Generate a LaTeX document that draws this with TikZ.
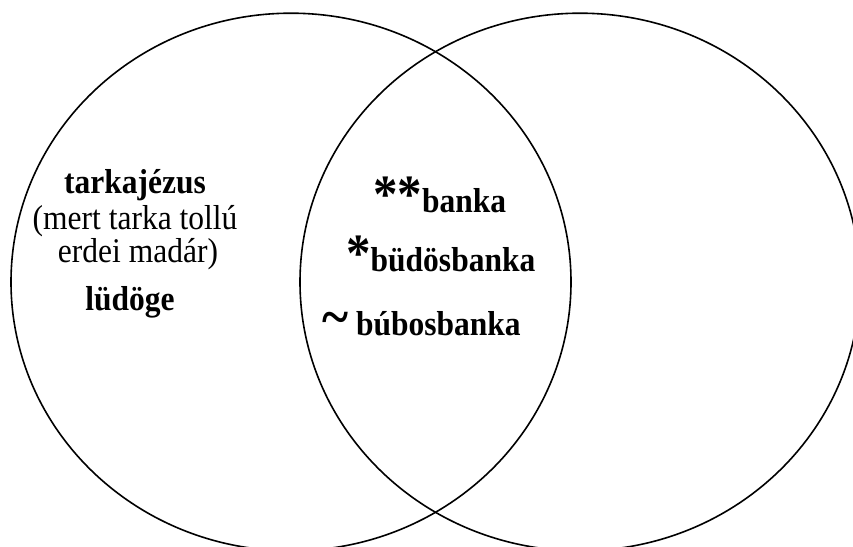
\documentclass[tikz,border=0pt]{standalone}
\usepackage{fontspec}
\setmainfont{Liberation Serif}
% slightly tall lettering
\newcommand{\tallword}[1]{\scalebox{1}[1.1]{#1}}
\begin{document}
\begin{tikzpicture}[x=1pt,y=-1pt,
  ring/.style={line width=1.6pt},
  word/.style={inner sep=0pt,anchor=base,font=\fontsize{31.5}{34}\selectfont},
  bword/.style={word,font=\fontsize{31.5}{34}\selectfont\bfseries}]
\useasboundingbox (0,0) rectangle (853,546);
\clip (0,0) rectangle (853,546);
% two overlapping sets
\draw[ring] (291,282) ellipse [x radius=280, y radius=268.8];
\draw[ring] (580,282) ellipse [x radius=280, y radius=268.8];
% left-only names
\node[bword] (tj) at (135,193) {\tallword{tarkajézus}};
\node[word] (m1) at (135,229) {\tallword{(mert tarka tollú}};
\node[word] (m2) at (138,262) {\tallword{erdei madár)}};
\node[bword] (lu) at (130,310) {\tallword{lüdöge}};
% shared names
\node[bword,anchor=base west] (bk) at (373,212) {\tallword{{\fontsize{49}{49}\selectfont **}banka}};
\node[bword,anchor=base west] (bb) at (346,271) {\tallword{{\fontsize{49}{49}\selectfont *}büdösbanka}};
\node[bword,anchor=base west] (bu) at (322,335) {\tallword{{\fontsize{50}{50}\selectfont\textasciitilde}\ búbosbanka}};
\end{tikzpicture}
\end{document}
